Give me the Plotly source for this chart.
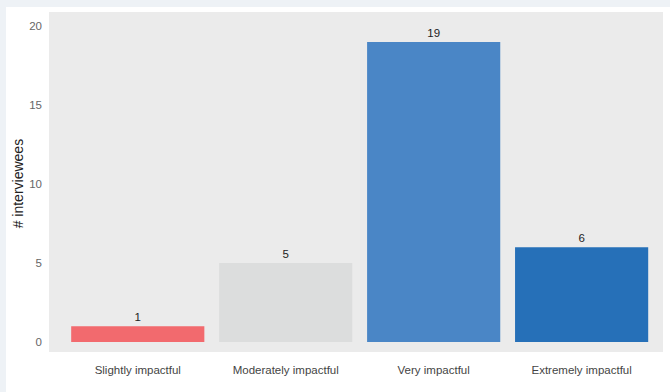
import plotly.graph_objects as go

categories = ["Slightly impactful", "Moderately impactful", "Very impactful", "Extremely impactful"]
counts = [1, 5, 19, 6]
bar_colors = ["#f26a6e", "#dcdddd", "#4a86c6", "#2670b8"]
y_ticks = [0, 5, 10, 15, 20]
y_title = "# interviewees"

FONT = "Liberation Sans, Arial, sans-serif"

fig = go.Figure(go.Bar(
    x=categories,
    y=counts,
    marker=dict(color=bar_colors, line=dict(width=0)),
    width=0.9,
    text=[str(c) for c in counts],
    textposition="outside",
    textfont=dict(size=11.5, color="#222222", family=FONT),
    cliponaxis=False,
))

fig.update_layout(
    width=670, height=392,
    margin=dict(l=49, r=7, t=12, b=40),
    paper_bgcolor="#eef2f6",
    plot_bgcolor="rgba(0,0,0,0)",
    font=dict(family=FONT, size=11, color="#555555"),
    showlegend=False,
    shapes=[
        dict(type="rect", xref="paper", yref="paper", x0=-0.0700, x1=1.02, y0=-0.2, y1=1.0147,
             fillcolor="#ffffff", line=dict(width=0), layer="below"),
        dict(type="rect", xref="paper", yref="paper", x0=0, x1=1, y0=0, y1=1,
             fillcolor="#ebebeb", line=dict(width=0), layer="below"),
    ],
    annotations=[
        dict(text=y_title, xref="paper", yref="paper", x=-0.0505, y=0.496,
             xanchor="center", yanchor="middle", textangle=-90, showarrow=False,
             font=dict(size=14, color="#222222", family=FONT)),
    ],
)

fig.update_xaxes(
    range=[-0.6, 3.55],
    showgrid=False, zeroline=False, showline=False,
    ticks="", ticklabelstandoff=9,
    tickfont=dict(size=11.5, color="#444444"),
)
fig.update_yaxes(
    range=[-0.63, 20.9],
    tickvals=y_ticks,
    showgrid=False, zeroline=False, showline=False,
    ticks="", ticklabelstandoff=6,
    tickfont=dict(size=11.5, color="#666666"),
)

fig.write_html(
    "out.html",
    config={"displayModeBar": False},
    post_script="document.body.style.margin='0';document.body.style.background='#eef2f6';"
)
